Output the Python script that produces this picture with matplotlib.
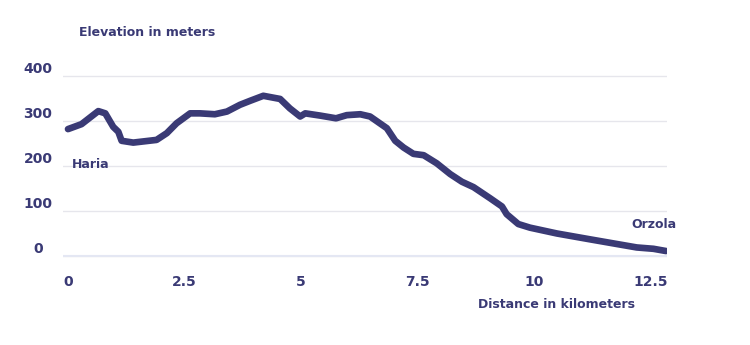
import matplotlib.pyplot as plt
from matplotlib.transforms import ScaledTranslation

# distance (km) and elevation (m)
distance_km = [0.0, 0.29, 0.65, 0.80, 0.97, 1.08, 1.15, 1.40, 1.90, 2.12, 2.33,
               2.62, 2.83, 3.15, 3.41, 3.69, 3.91, 4.19, 4.55, 4.76, 4.98,
               5.09, 5.41, 5.75, 5.98, 6.27, 6.48, 6.84, 7.02, 7.20, 7.41,
               7.63, 7.91, 8.20, 8.45, 8.70, 9.06, 9.31, 9.41, 9.66, 9.91,
               10.49, 11.20, 11.70, 12.20, 12.56, 12.83]
elevation_m = [282, 293, 322, 317, 287, 276, 256, 252, 258, 273, 295,
               317, 317, 315, 321, 336, 345, 356, 349, 328, 310,
               317, 312, 306, 313, 315, 310, 284, 256, 241, 227,
               224, 206, 182, 165, 153, 128, 110, 93, 71, 63,
               50, 37, 28, 19, 16, 11]

x_ticks = [0, 2.5, 5, 7.5, 10, 12.5]
x_tick_labels = ["0", "2.5", "5", "7.5", "10", "12.5"]
y_ticks = [0, 100, 200, 300, 400]

navy = "#3a3a75"
W, H = 750, 345

fig = plt.figure(figsize=(7.5, 3.45), dpi=100)
# axes box placed by pixel extents of the reference
left, right, top, bottom = 63, 667, 74, 258
ax = fig.add_axes([left / W, 1 - bottom / H, (right - left) / W, (bottom - top) / H])
ax.set_xlim(-5 / 46.6, 12.85)
ax.set_ylim(-4.44, 404.44)

ax.plot(distance_km, elevation_m, color=navy, lw=4.8, solid_capstyle="round",
        solid_joinstyle="round", zorder=3)

for s in ax.spines.values():
    s.set_visible(False)
ax.grid(axis="y", color="#e6e6ec", lw=1)
ax.set_axisbelow(True)
ax.axhline(0, color="#e4e7f3", lw=1.5, zorder=1)

ax.set_xticks(x_ticks)
ax.set_xticklabels(x_tick_labels)
ax.set_yticks(y_ticks)
ax.tick_params(length=0, labelcolor=navy, labelsize=10)
ax.tick_params(axis="y", pad=18)
ax.tick_params(axis="x", pad=12.5)
shift = ScaledTranslation(0, 6 / 72, fig.dpi_scale_trans)
for lab in ax.get_yticklabels():
    lab.set_ha("center")
    lab.set_fontweight("bold")
    lab.set_transform(lab.get_transform() + shift)
for lab in ax.get_xticklabels():
    lab.set_fontweight("bold")

fig.text(79 / W, 1 - 33 / H, "Elevation in meters", color=navy, fontsize=9,
         fontweight="bold", ha="left", va="center")
fig.text(556 / W, 1 - 304 / H, "Distance in kilometers", color=navy, fontsize=9,
         fontweight="bold", ha="center", va="center")
fig.text(72 / W, 1 - 164 / H, "Haria", color=navy, fontsize=9,
         fontweight="bold", ha="left", va="center")
fig.text(676 / W, 1 - 224 / H, "Orzola", color=navy, fontsize=9,
         fontweight="bold", ha="right", va="center")

fig.savefig("out.png", dpi=100)
